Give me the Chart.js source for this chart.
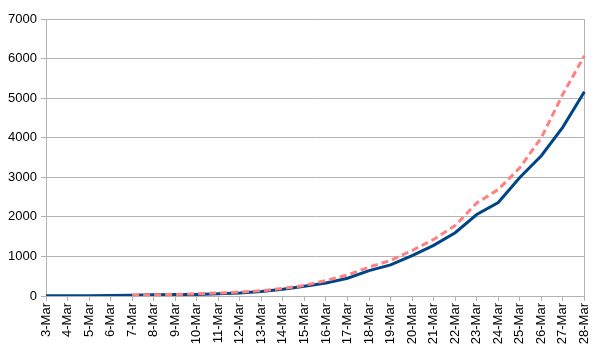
<!DOCTYPE html>
<html>
<head>
<meta charset="utf-8">
<script src="https://cdn.jsdelivr.net/npm/chart.js@4/dist/chart.umd.min.js"></script>
<style>
    html, body { margin: 0; padding: 0; background: #fff; }
    #wrap { width: 602px; height: 357px; }
</style>
</head>
<body>
<div id="wrap"><canvas id="myChart" width="602" height="357"></canvas></div>
<script>
"use strict";

const days = ['3-Mar', '4-Mar', '5-Mar', '6-Mar', '7-Mar', '8-Mar', '9-Mar', '10-Mar', '11-Mar',
    '12-Mar', '13-Mar', '14-Mar', '15-Mar', '16-Mar', '17-Mar', '18-Mar', '19-Mar', '20-Mar',
    '21-Mar', '22-Mar', '23-Mar', '24-Mar', '25-Mar', '26-Mar', '27-Mar', '28-Mar'];

// solid blue line
const actual = [4, 6, 9, 13, 21, 30, 39, 41, 59, 78, 112, 169, 245, 331, 448, 642, 785, 1020,
    1280, 1600, 2060, 2362, 2995, 3544, 4268, 5160];

// dashed pink line, starts on 7-Mar
const projected = [null, null, null, null, 20, 30, 40, 55, 75, 100, 135, 190, 270, 390, 530, 730,
    900, 1150, 1430, 1780, 2350, 2690, 3240, 4000, 5100, 6070];

const yTicks = [0, 1000, 2000, 3000, 4000, 5000, 6000, 7000];

const gridColor = '#b3b3b3';
const font = { family: '"Liberation Sans", Arial, sans-serif', size: 13 };

const ctx = document.getElementById('myChart');
const myChart = new Chart(ctx, {
    type: 'line',
    data: {
        labels: days,
        datasets: [{
            label: 'projected',
            data: projected,
            borderColor: 'rgb(255, 128, 128)',
            borderWidth: 3,
            borderDash: [7, 4],
            pointRadius: 0,
            tension: 0,
            spanGaps: false
        }, {
            label: 'actual',
            data: actual,
            borderColor: '#004586',
            borderWidth: 3,
            pointRadius: 0,
            tension: 0
        }]
    },
    options: {
        responsive: false,
        animation: false,
        layout: {
            padding: { left: 0, right: 15, top: 19, bottom: 0 }
        },
        plugins: {
            legend: { display: false },
            tooltip: { enabled: false }
        },
        scales: {
            x: {
                offset: false,
                grid: {
                    drawOnChartArea: false,
                    color: gridColor,
                    tickLength: 5
                },
                border: { color: gridColor, width: 1 },
                ticks: {
                    color: '#000',
                    font: font,
                    minRotation: 90,
                    maxRotation: 90,
                    autoSkip: false,
                    padding: 2
                },
                afterFit: function (scale) {
                    scale.height = 61;
                }
            },
            y: {
                min: 0,
                max: 7000,
                afterBuildTicks: function (scale) {
                    scale.ticks = yTicks.map(v => ({ value: v }));
                },
                grid: {
                    color: gridColor,
                    tickLength: 5
                },
                border: { color: gridColor, width: 1 },
                ticks: {
                    color: '#000',
                    font: font,
                    padding: 4,
                    callback: function (value) {
                        return String(value);
                    }
                },
                afterFit: function (scale) {
                    scale.width = 46;
                }
            },
            y1: {
                position: 'right',
                min: 0,
                max: 7000,
                grid: { drawOnChartArea: false, drawTicks: false },
                border: { color: gridColor, width: 1 },
                ticks: { display: false },
                afterFit: function (scale) {
                    scale.width = 0;
                }
            }
        }
    }
});
</script>
</body>
</html>
